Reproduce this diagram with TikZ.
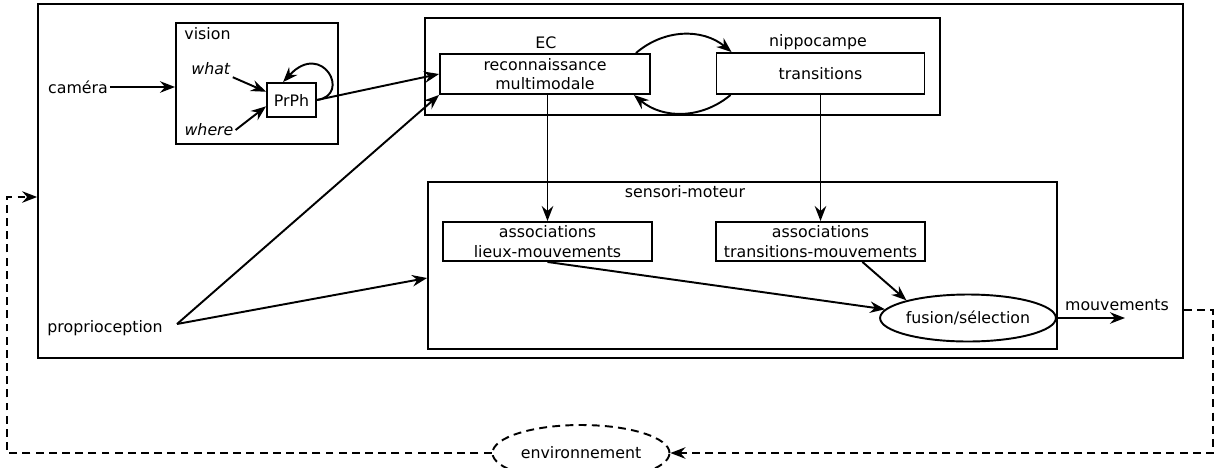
\documentclass[tikz,border=0pt]{standalone}
\usepackage{fontspec}
\setmainfont{DejaVu Sans}
\usetikzlibrary{arrows.meta,shapes.geometric}

\begin{document}
\begin{tikzpicture}[x=0.02cm,y=-0.02cm,
  every node/.style={font=\fontsize{9}{11}\selectfont},
  bx/.style={draw=black,line width=1.1pt,inner sep=0pt,align=center},
  lbl/.style={inner sep=1pt},
  ell/.style={draw=black,line width=1.1pt,ellipse,inner sep=0pt},
  ar/.style={-{Stealth[length=3mm,width=2.3mm,inset=1mm]},line width=1.1pt},
  dsh/.style={dash pattern=on 4.5pt off 3pt}]
\useasboundingbox (0,0) rectangle (1221,467);
% boxes
\node[bx,minimum width=22.9cm,minimum height=7.08cm] (outer) at (610.5,181) {};
\node[bx,minimum width=3.24cm,minimum height=2.42cm] (vis) at (257,83.5) {};
\node[lbl] (vislbl) at (207.5,34) {vision};
\node[bx,minimum width=0.98cm,minimum height=0.68cm] (prph) at (291.5,100) {PrPh};
\node[lbl] (what) at (211,69) {\textit{what}};
\node[lbl] (where) at (209,130) {\textit{where}};
\node[lbl] (cam) at (78,87) {caméra};
\node[lbl] (prop) at (105,328) {proprioception};
\node[bx,minimum width=10.3cm,minimum height=1.94cm] (mem) at (682.5,66.5) {};
\node[bx,minimum width=4.2cm,minimum height=0.8cm] (recon) at (545,74) {reconnaissance\\multimodale};
\node[bx,minimum width=4.16cm,minimum height=0.82cm] (trans) at (820.5,73.5) {transitions};
\node[lbl] (eclbl) at (546,43) {EC};
\node[lbl] (hiplbl) at (818,42) {nippocampe};
\node[bx,minimum width=12.58cm,minimum height=3.34cm] (sm) at (742.5,265.5) {};
\node[lbl] (smlbl) at (685,192) {sensori-moteur};
\node[bx,minimum width=4.18cm,minimum height=0.78cm] (lieux) at (547.5,241.5) {associations\\lieux-mouvements};
\node[bx,minimum width=4.18cm,minimum height=0.78cm] (tmouv) at (820.5,241.5) {associations\\transitions-mouvements};
\node[ell,minimum width=3.04cm,minimum height=0.94cm] (fus) at (968,318) {fusion/sélection};
\node[lbl] (mouv) at (1117,305) {mouvements};
\node[ell,dsh,minimum width=3.54cm,minimum height=1.12cm] (env) at (581,453) {environnement};
\coordinate (propout) at (177,324);
\coordinate (mout) at (1125,318);
\coordinate (fbr) at (1213,310);
\coordinate (fbl) at (7,197);
% connectors
\draw[ar] (cam.east) -- (vis.west |- cam.east);
\draw[ar] (what.south east) -- (prph.162);
\draw[ar] (where.east) -- (prph.194);
\draw[ar] (prph.east) .. controls (352,95) and (322,40) .. (prph.115);
\draw[ar] (prph.east) -- (recon.west);
\draw[ar] (propout) -- (recon.south west);
\draw[ar] (propout) -- ([yshift=-0.25cm]sm.west);
\draw[ar] ([xshift=-0.3cm]recon.north east) to[bend left=40] ([xshift=0.32cm]trans.north west);
\draw[ar] ([xshift=0.3cm]trans.south west) to[bend left=40] ([xshift=-0.34cm]recon.south east);
\draw[ar] (lieux.north |- recon.south) -- (lieux.north);
\draw[ar] (trans.south) -- (tmouv.north);
\draw[ar] (lieux.south) -- (fus.174);
\draw[ar] (tmouv.-26) -- (fus.164);
\draw[ar] (fus.east) -- (mout);
% feedback loop
\draw[ar,dsh] (outer.east |- fbr) -- (fbr) |- (env.east);
\draw[ar,dsh] (env.west) -| (fbl) -- (outer.west |- fbl);
\end{tikzpicture}
\end{document}
